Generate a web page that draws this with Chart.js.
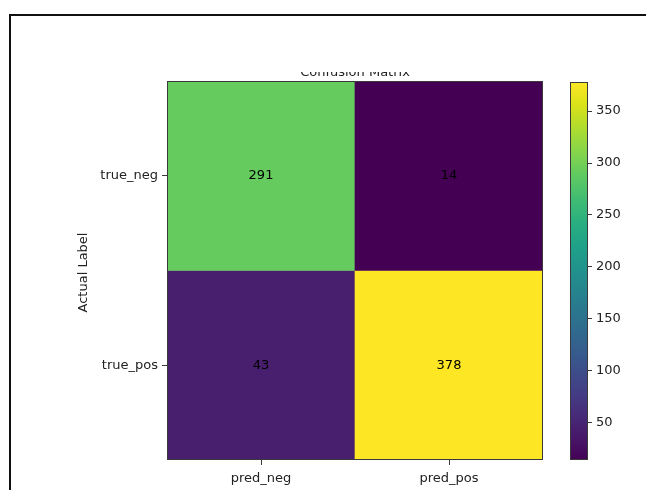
<!DOCTYPE html>
<html>
<head>
<meta charset="utf-8">
<script src="https://cdn.jsdelivr.net/npm/chart.js@4"></script>
<style>
  html, body { margin: 0; padding: 0; background: #fff; }
  #page { position: relative; width: 646px; height: 490px; overflow: hidden; }
  #frame { position: absolute; left: 9px; top: 14px; width: 700px; height: 600px; border: 2px solid #111; box-sizing: border-box; }
  #matrix { position: absolute; left: 0; top: 0; }
  #cbar { position: absolute; left: 550px; top: 0; }
</style>
</head>
<body>
<div id="page">
  <div id="frame"></div>
  <canvas id="matrix" width="646" height="490"></canvas>
  <canvas id="cbar" width="96" height="490"></canvas>
</div>
<script>
const predLabels = ['pred_neg', 'pred_pos'];
const actualLabels = ['true_neg', 'true_pos'];
// counts[row][col], rows = actual, cols = predicted
const counts = [
  [291, 14],
  [43, 378]
];
const cbarTicks = [50, 100, 150, 200, 250, 300, 350];

const vmin = Math.min(...counts.flat());
const vmax = Math.max(...counts.flat());

// viridis stops
const viridis = ['#440154', '#48186a', '#472d7b', '#424086', '#3b528b', '#33638d', '#2c728e', '#26828e',
  '#21918c', '#1fa088', '#28ae80', '#3fbc73', '#5ec962', '#84d44b', '#addc30', '#d8e219', '#fde725'];

function hexRgb(h) {
  return [parseInt(h.slice(1, 3), 16), parseInt(h.slice(3, 5), 16), parseInt(h.slice(5, 7), 16)];
}
function cmap(v) {
  let t = (v - vmin) / (vmax - vmin);
  t = Math.max(0, Math.min(1, t)) * (viridis.length - 1);
  const i = Math.min(Math.floor(t), viridis.length - 2);
  const f = t - i;
  const a = hexRgb(viridis[i]), b = hexRgb(viridis[i + 1]);
  const c = a.map((x, k) => Math.round(x + (b[k] - x) * f));
  return `rgb(${c[0]},${c[1]},${c[2]})`;
}

const font = { family: 'DejaVu Sans', size: 13 };
const spine = '#3a3a3a';

// one dataset per actual row, each bar spans its row band on a 0..2 axis (row 0 at top)
const datasets = actualLabels.map((lab, r) => ({
  label: lab,
  data: predLabels.map(() => [actualLabels.length - 1 - r, actualLabels.length - r]),
  backgroundColor: counts[r].map(v => cmap(v)),
  barPercentage: 1,
  categoryPercentage: 1,
  borderWidth: 0,
  grouped: false
}));

const matrixExtras = {
  id: 'matrixExtras',
  afterDatasetsDraw(chart) {
    const ctx = chart.ctx;
    const area = chart.chartArea;
    ctx.save();
    // cell values
    ctx.fillStyle = '#000';
    ctx.font = '13px "DejaVu Sans"';
    ctx.textAlign = 'center';
    ctx.textBaseline = 'middle';
    chart.data.datasets.forEach((ds, r) => {
      chart.getDatasetMeta(r).data.forEach((bar, c) => {
        const yMid = (bar.y + bar.base) / 2;
        ctx.fillText(String(counts[r][c]), bar.x, yMid);
      });
    });
    // spines
    ctx.strokeStyle = spine;
    ctx.lineWidth = 1;
    ctx.strokeRect(area.left + 0.5, area.top + 0.5, area.right - area.left - 1, area.bottom - area.top - 1);
    // y axis title
    ctx.translate(84, (area.top + area.bottom) / 2 + 2);
    ctx.rotate(-Math.PI / 2);
    ctx.fillStyle = '#222';
    ctx.fillText('Actual Label', 0, 0);
    ctx.restore();
    // title, mostly hidden above the plot
    ctx.save();
    ctx.beginPath();
    ctx.rect(0, 72, chart.width, area.top - 72);
    ctx.clip();
    ctx.fillStyle = '#222';
    ctx.font = '13px "DejaVu Sans"';
    ctx.textAlign = 'center';
    ctx.textBaseline = 'alphabetic';
    ctx.fillText('Confusion Matrix', (area.left + area.right) / 2, 76);
    ctx.restore();
  }
};

new Chart(document.getElementById('matrix'), {
  type: 'bar',
  data: { labels: predLabels, datasets },
  options: {
    responsive: false,
    animation: false,
    layout: { padding: { left: 0, top: 81, right: 103, bottom: 0 } },
    plugins: { legend: { display: false }, tooltip: { enabled: false }, title: { display: false } },
    scales: {
      x: {
        type: 'category',
        offset: true,
        grid: { offset: false, drawOnChartArea: false, drawTicks: true, tickLength: 5, color: spine },
        border: { display: false },
        ticks: { color: '#222', font, padding: 6 },
        afterFit(scale) { scale.height = 30; }
      },
      y: {
        type: 'linear',
        min: 0,
        max: actualLabels.length,
        grid: { drawOnChartArea: false, drawTicks: true, tickLength: 5, color: spine },
        border: { display: false },
        ticks: {
          color: '#222',
          font,
          padding: 4,
          callback: v => actualLabels[actualLabels.length - 1 - Math.floor(v)]
        },
        afterBuildTicks(scale) {
          scale.ticks = actualLabels.map((_, i) => ({ value: i + 0.5 }));
        },
        afterFit(scale) { scale.width = 167; }
      }
    }
  },
  plugins: [matrixExtras]
});

// colour bar: one floating bar from vmin to vmax filled with the colormap
const cbarOutline = {
  id: 'cbarOutline',
  afterDatasetsDraw(chart) {
    const a = chart.chartArea;
    const ctx = chart.ctx;
    ctx.save();
    ctx.strokeStyle = spine;
    ctx.lineWidth = 1;
    ctx.strokeRect(a.left + 0.5, a.top + 0.5, a.right - a.left - 1, a.bottom - a.top - 1);
    ctx.restore();
  }
};

new Chart(document.getElementById('cbar'), {
  type: 'bar',
  data: {
    labels: [''],
    datasets: [{
      data: [[vmin, vmax]],
      barPercentage: 1,
      categoryPercentage: 1,
      borderWidth: 0,
      backgroundColor(ctx) {
        const chart = ctx.chart;
        const a = chart.chartArea;
        if (!a) return viridis[0];
        const ys = chart.scales.y;
        const g = chart.ctx.createLinearGradient(0, ys.getPixelForValue(vmin), 0, ys.getPixelForValue(vmax));
        viridis.forEach((c, i) => g.addColorStop(i / (viridis.length - 1), c));
        return g;
      }
    }]
  },
  options: {
    responsive: false,
    animation: false,
    layout: { padding: { left: 20, top: 82, right: 0, bottom: 30 } },
    plugins: { legend: { display: false }, tooltip: { enabled: false } },
    scales: {
      x: { display: false },
      y: {
        position: 'right',
        min: vmin,
        max: vmax,
        grid: { drawOnChartArea: false, drawTicks: true, tickLength: 4, color: spine },
        border: { display: false },
        ticks: { color: '#222', font, padding: 4 },
        afterBuildTicks(scale) {
          scale.ticks = cbarTicks.map(v => ({ value: v }));
        },
        afterFit(scale) { scale.width = 58; }
      }
    }
  },
  plugins: [cbarOutline]
});
</script>
</body>
</html>
